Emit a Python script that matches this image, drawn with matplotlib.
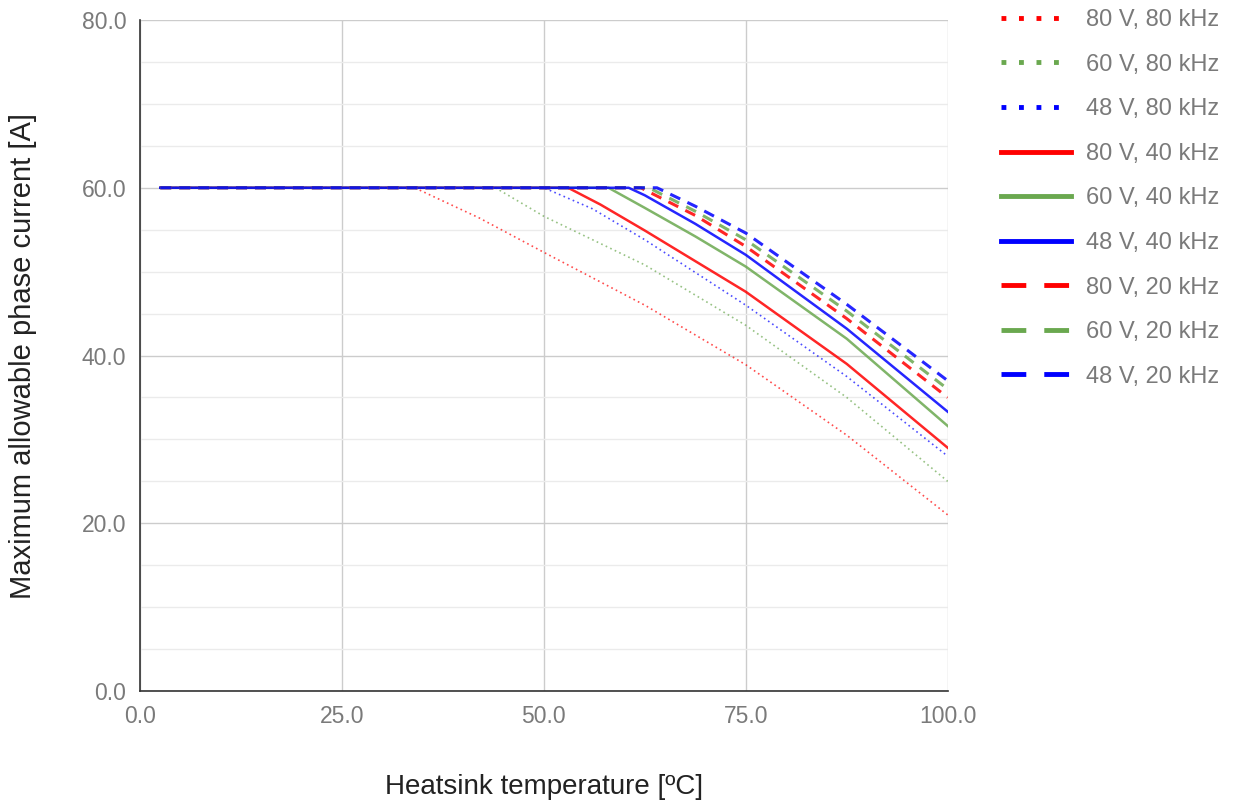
import matplotlib.pyplot as plt
from matplotlib.lines import Line2D
from matplotlib.ticker import MultipleLocator, FormatStrFormatter

plt.rcParams['font.family'] = ['Liberation Sans', 'DejaVu Sans']

# Series: label, x points, y points
labels = ['80 V, 80 kHz', '60 V, 80 kHz', '48 V, 80 kHz',
          '80 V, 40 kHz', '60 V, 40 kHz', '48 V, 40 kHz',
          '80 V, 20 kHz', '60 V, 20 kHz', '48 V, 20 kHz']

x_80v_80k = [2.5, 34, 42, 50, 62.5, 75, 87.5, 100]
y_80v_80k = [60, 60, 56.4, 52.3, 46.0, 38.9, 30.5, 21.0]
x_60v_80k = [2.5, 44, 50, 62.5, 75, 87.5, 100]
y_60v_80k = [60, 60, 56.6, 50.8, 43.6, 35.0, 25.0]
x_48v_80k = [2.5, 50, 56, 62.5, 75, 87.5, 100]
y_48v_80k = [60, 60, 57.5, 53.8, 46.0, 37.5, 28.0]

x_80v_40k = [2.5, 53, 57, 62.5, 75, 87.5, 100]
y_80v_40k = [60, 60, 58.0, 54.9, 47.6, 39.0, 29.0]
x_60v_40k = [2.5, 58, 62.5, 68.75, 75, 87.5, 100]
y_60v_40k = [60, 60, 57.6, 54.2, 50.6, 42.0, 31.6]
x_48v_40k = [2.5, 60.5, 62.5, 68.75, 75, 87.5, 100]
y_48v_40k = [60, 60, 59.1, 55.7, 52.0, 43.2, 33.3]

x_80v_20k = [2.5, 62, 68.75, 75, 87.5, 100]
y_80v_20k = [60, 60, 56.7, 53.0, 44.4, 35.0]
x_60v_20k = [2.5, 63, 68.75, 75, 87.5, 100]
y_60v_20k = [60, 60, 57.2, 53.8, 45.3, 36.0]
x_48v_20k = [2.5, 64, 68.75, 75, 87.5, 100]
y_48v_20k = [60, 60, 57.8, 54.6, 46.1, 37.0]

xs = [x_80v_80k, x_60v_80k, x_48v_80k, x_80v_40k, x_60v_40k, x_48v_40k,
      x_80v_20k, x_60v_20k, x_48v_20k]
ys = [y_80v_80k, y_60v_80k, y_48v_80k, y_80v_40k, y_60v_40k, y_48v_40k,
      y_80v_20k, y_60v_20k, y_48v_20k]

RED, GREEN, BLUE = '#ff0000', '#6aa84f', '#0000ff'
colors = [RED, GREEN, BLUE] * 3
kinds = ['dot'] * 3 + ['solid'] * 3 + ['dash'] * 3

fig = plt.figure(figsize=(12.34, 8.01), dpi=100)
ax = fig.add_axes([0.1135, 0.1373, 0.6545, 0.8377])

for x, y, c, k in zip(xs, ys, colors, kinds):
    if k == 'dot':
        ax.plot(x, y, color=c, lw=1.2, dashes=(1, 2), alpha=0.7, zorder=3)
    elif k == 'solid':
        ax.plot(x, y, color=c, lw=1.8, alpha=0.85, zorder=4)
    else:
        ax.plot(x, y, color=c, lw=2.2, dashes=(3.6, 2.6), alpha=0.85, zorder=5)

ax.set_xlim(0, 100)
ax.set_ylim(0, 80)
ax.xaxis.set_major_locator(MultipleLocator(25))
ax.yaxis.set_major_locator(MultipleLocator(20))
ax.yaxis.set_minor_locator(MultipleLocator(5))
ax.xaxis.set_major_formatter(FormatStrFormatter('%.1f'))
ax.yaxis.set_major_formatter(FormatStrFormatter('%.1f'))
ax.grid(True, which='major', color='#cccccc', lw=1.0, zorder=0)
ax.grid(True, which='minor', axis='y', color='#ebebeb', lw=1.0, zorder=0)
ax.set_axisbelow(True)

for s in ['top', 'right']:
    ax.spines[s].set_visible(False)
for s in ['left', 'bottom']:
    ax.spines[s].set_color('#333333')
    ax.spines[s].set_linewidth(1.2)

ax.tick_params(which='both', length=0, labelsize=16.5, labelcolor='#7a7a7a')
ax.tick_params(axis='y', pad=10)
ax.tick_params(axis='x', pad=10)
ax.set_xlabel('Heatsink temperature [ºC]', fontsize=20, color='#222222', labelpad=33)
ax.set_ylabel('Maximum allowable phase current [A]', fontsize=21, color='#222222', labelpad=32)

# Legend with thicker sample lines, like the original
handles = []
for c, k in zip(colors, kinds):
    if k == 'dot':
        handles.append(Line2D([0], [0], color=c, lw=3.5, dashes=(1, 2.6)))
    elif k == 'solid':
        handles.append(Line2D([0], [0], color=c, lw=3.5))
    else:
        handles.append(Line2D([0], [0], color=c, lw=3.5, dashes=(5.1, 3.7)))

leg = fig.legend(handles, labels, loc='upper left', bbox_to_anchor=(0.8115, 0.9885),
                 frameon=False, fontsize=17, handlelength=2.95, handletextpad=0.62,
                 labelspacing=0.955, borderaxespad=0, borderpad=0)
for t in leg.get_texts():
    t.set_color('#7a7a7a')

fig.savefig('out.png', dpi=100)
